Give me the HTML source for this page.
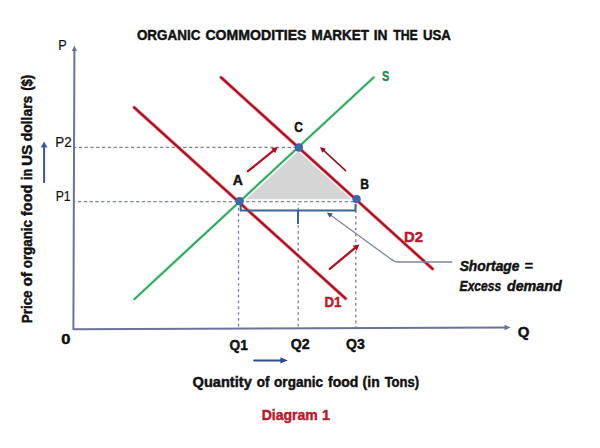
<!DOCTYPE html>
<html><head><meta charset="utf-8">
<style>
html,body{margin:0;padding:0;background:#fff;width:600px;height:448px;overflow:hidden}
svg{display:block}
text{font-family:"Liberation Sans",sans-serif}
</style></head>
<body>
<svg width="600" height="448" viewBox="0 0 600 448">
<g stroke="#7a82a0" stroke-width="1.25" stroke-dasharray="3.3 2.5" fill="none">
  <line x1="75" y1="147.4" x2="296" y2="147.4" stroke-dashoffset="2.05"/>
  <line x1="75" y1="201.6" x2="356" y2="201.6" stroke-dashoffset="2.85"/>
</g>
<g stroke="#727a96" stroke-width="1.3" stroke-dasharray="2.7 3.1" fill="none">
  <line x1="238.5" y1="204" x2="238.5" y2="328" stroke-dashoffset="2.05"/>
  <line x1="298.2" y1="204" x2="298.2" y2="328" stroke-dashoffset="2.05"/>
  <line x1="355.8" y1="203" x2="355.8" y2="328" stroke-dashoffset="4.35"/>
</g>
<polygon points="246,199.3 298.1,151.3 351.5,199.3" fill="#d5d5d5"/>
<polyline points="74.4,49 73.4,329.2 506,327.5" stroke="#6b7398" stroke-width="2" fill="none" stroke-linejoin="round"/>
<polygon points="74.40,45.60 77.00,51.10 71.80,51.10" fill="#6b7398"/>
<polygon points="510.50,327.50 504.50,330.20 504.50,324.80" fill="#6b7398"/>
<line x1="134.4" y1="299.1" x2="373.7" y2="77.4" stroke="#9af0c0" stroke-width="3.8" stroke-opacity="0.5" stroke-linecap="round"/>
<line x1="134.4" y1="299.1" x2="373.7" y2="77.4" stroke="#33a05c" stroke-width="1.9" stroke-linecap="round"/>
<g stroke-linecap="round">
<line x1="134.1" y1="107.4" x2="345.7" y2="298.6" stroke="#ff3a4a" stroke-width="3.6" stroke-opacity="0.55"/>
<line x1="221" y1="77.4" x2="432.6" y2="268.9" stroke="#ff3a4a" stroke-width="3.6" stroke-opacity="0.55"/>
<line x1="134.1" y1="107.4" x2="345.7" y2="298.6" stroke="#a50f1f" stroke-width="2.1"/>
<line x1="221" y1="77.4" x2="432.6" y2="268.9" stroke="#a50f1f" stroke-width="2.1"/>
</g>
<g stroke="#3a6692" stroke-width="2" fill="none">
  <polyline points="240.7,205 240.7,210.5 355.5,210.5 355.5,204"/>
  <line x1="298" y1="210.5" x2="298" y2="224"/>
</g>
<path d="M329.5,214.3 L390.5,258.8 Q394,262 398.5,262 L452.3,262" stroke="#7e879c" stroke-width="1.3" fill="none"/>
<polygon points="326.80,212.40 332.78,213.54 329.71,217.74" fill="#4a5866"/>
<line x1="248.00" y1="171.20" x2="274.01" y2="150.15" stroke="#b3101f" stroke-width="2.2" stroke-linecap="round"/>
<polygon points="277.90,147.00 275.25,153.26 271.22,148.29" fill="#b3101f"/>
<line x1="329.80" y1="268.90" x2="355.45" y2="247.59" stroke="#b3101f" stroke-width="2.3" stroke-linecap="round"/>
<polygon points="359.30,244.40 356.79,250.77 352.58,245.69" fill="#b3101f"/>
<line x1="345.60" y1="170.60" x2="323.31" y2="150.05" stroke="#8a1425" stroke-width="1.6" stroke-linecap="round"/>
<polygon points="320.00,147.00 325.87,148.74 322.21,152.71" fill="#8a1425"/>
<g fill="#3d67ac" stroke="#30589a" stroke-width="0.6">
  <circle cx="239.6" cy="201.2" r="3.9"/>
  <circle cx="298.9" cy="147.5" r="3.9"/>
  <circle cx="356.6" cy="199.1" r="3.9"/>
</g>
<line x1="44.10" y1="182.90" x2="44.10" y2="146.40" stroke="#3a55a0" stroke-width="2" stroke-linecap="butt"/>
<polygon points="44.10,141.40 47.40,147.40 40.80,147.40" fill="#3a55a0"/>
<line x1="254.20" y1="360.40" x2="281.40" y2="360.40" stroke="#2f4d8a" stroke-width="2" stroke-linecap="round"/>
<polygon points="287.90,360.40 280.40,363.50 280.40,357.30" fill="#2f4d8a"/>
<text x="136.91" y="40.3" font-size="14.1" font-weight="bold" font-style="normal" fill="#111" stroke="#111" stroke-width="0.45" textLength="63.52" lengthAdjust="spacingAndGlyphs">ORGANIC</text>
<text x="205.43" y="40.3" font-size="14.1" font-weight="bold" font-style="normal" fill="#111" stroke="#111" stroke-width="0.45" textLength="101.11" lengthAdjust="spacingAndGlyphs">COMMODITIES</text>
<text x="311.41" y="40.3" font-size="14.1" font-weight="bold" font-style="normal" fill="#111" stroke="#111" stroke-width="0.45" textLength="57.67" lengthAdjust="spacingAndGlyphs">MARKET</text>
<text x="373.76" y="40.3" font-size="14.1" font-weight="bold" font-style="normal" fill="#111" stroke="#111" stroke-width="0.45" textLength="13.79" lengthAdjust="spacingAndGlyphs">IN</text>
<text x="393.15" y="40.3" font-size="14.1" font-weight="bold" font-style="normal" fill="#111" stroke="#111" stroke-width="0.45" textLength="24.55" lengthAdjust="spacingAndGlyphs">THE</text>
<text x="422.92" y="40.3" font-size="14.1" font-weight="bold" font-style="normal" fill="#111" stroke="#111" stroke-width="0.45" textLength="27.95" lengthAdjust="spacingAndGlyphs">USA</text>
<text x="58.15" y="50.1" font-size="14.6" font-weight="normal" font-style="normal" fill="#111" stroke="#111" stroke-width="0.2" textLength="8.50" lengthAdjust="spacingAndGlyphs">P</text>
<text x="55.28" y="147.1" font-size="14.6" font-weight="normal" font-style="normal" fill="#111" stroke="#111" stroke-width="0.2" textLength="16.40" lengthAdjust="spacingAndGlyphs">P2</text>
<text x="55.63" y="201.1" font-size="14.6" font-weight="normal" font-style="normal" fill="#111" stroke="#111" stroke-width="0.2" textLength="15.00" lengthAdjust="spacingAndGlyphs">P1</text>
<text x="61.27" y="343.5" font-size="14.2" font-weight="bold" font-style="normal" fill="#111" stroke="#111" stroke-width="0.45" textLength="9.19" lengthAdjust="spacingAndGlyphs">0</text>
<text x="517.65" y="337" font-size="14.2" font-weight="bold" font-style="normal" fill="#111" stroke="#111" stroke-width="0.45" textLength="11.67" lengthAdjust="spacingAndGlyphs">Q</text>
<text x="229.50" y="350.1" font-size="14.2" font-weight="bold" font-style="normal" fill="#111" stroke="#111" stroke-width="0.45" textLength="18.28" lengthAdjust="spacingAndGlyphs">Q1</text>
<text x="290.64" y="348.8" font-size="14.2" font-weight="bold" font-style="normal" fill="#111" stroke="#111" stroke-width="0.45" textLength="18.94" lengthAdjust="spacingAndGlyphs">Q2</text>
<text x="346.06" y="349.4" font-size="14.2" font-weight="bold" font-style="normal" fill="#111" stroke="#111" stroke-width="0.45" textLength="18.74" lengthAdjust="spacingAndGlyphs">Q3</text>
<text x="232.85" y="185.1" font-size="14.2" font-weight="bold" font-style="normal" fill="#111" stroke="#111" stroke-width="0.45" textLength="10.11" lengthAdjust="spacingAndGlyphs">A</text>
<text x="294.37" y="132" font-size="14.2" font-weight="bold" font-style="normal" fill="#111" stroke="#111" stroke-width="0.45" textLength="8.56" lengthAdjust="spacingAndGlyphs">C</text>
<text x="360.16" y="189" font-size="14.2" font-weight="bold" font-style="normal" fill="#111" stroke="#111" stroke-width="0.45" textLength="8.72" lengthAdjust="spacingAndGlyphs">B</text>
<text x="192.61" y="386.6" font-size="14.2" font-weight="bold" font-style="normal" fill="#111" stroke="#111" stroke-width="0.45" textLength="59.14" lengthAdjust="spacingAndGlyphs">Quantity</text>
<text x="256.80" y="386.6" font-size="14.2" font-weight="bold" font-style="normal" fill="#111" stroke="#111" stroke-width="0.45" textLength="12.74" lengthAdjust="spacingAndGlyphs">of</text>
<text x="274.08" y="386.6" font-size="14.2" font-weight="bold" font-style="normal" fill="#111" stroke="#111" stroke-width="0.45" textLength="48.96" lengthAdjust="spacingAndGlyphs">organic</text>
<text x="328.08" y="386.6" font-size="14.2" font-weight="bold" font-style="normal" fill="#111" stroke="#111" stroke-width="0.45" textLength="30.22" lengthAdjust="spacingAndGlyphs">food</text>
<text x="362.62" y="386.6" font-size="14.2" font-weight="bold" font-style="normal" fill="#111" stroke="#111" stroke-width="0.45" textLength="17.06" lengthAdjust="spacingAndGlyphs">(in</text>
<text x="384.65" y="386.6" font-size="14.2" font-weight="bold" font-style="normal" fill="#111" stroke="#111" stroke-width="0.45" textLength="34.43" lengthAdjust="spacingAndGlyphs">Tons)</text>
<text x="381.89" y="81.4" font-size="14.2" font-weight="bold" font-style="normal" fill="#1f8a52" stroke="#1f8a52" stroke-width="0.45" textLength="7.20" lengthAdjust="spacingAndGlyphs">S</text>
<text x="324.57" y="307" font-size="14.2" font-weight="bold" font-style="normal" fill="#b81a2b" stroke="#b81a2b" stroke-width="0.45" textLength="16.88" lengthAdjust="spacingAndGlyphs">D1</text>
<text x="403.97" y="242" font-size="14.2" font-weight="bold" font-style="normal" fill="#b81a2b" stroke="#b81a2b" stroke-width="0.45" textLength="18.96" lengthAdjust="spacingAndGlyphs">D2</text>
<text x="261.65" y="420.1" font-size="14.2" font-weight="bold" font-style="normal" fill="#b81a2b" stroke="#b81a2b" stroke-width="0.45" textLength="56.12" lengthAdjust="spacingAndGlyphs">Diagram</text>
<text x="321.98" y="420.1" font-size="14.2" font-weight="bold" font-style="normal" fill="#b81a2b" stroke="#b81a2b" stroke-width="0.45" textLength="8.03" lengthAdjust="spacingAndGlyphs">1</text>
<text x="459.64" y="271.2" font-size="14.4" font-weight="bold" font-style="italic" fill="#111" stroke="#111" stroke-width="0.45" textLength="59.82" lengthAdjust="spacingAndGlyphs">Shortage</text>
<text x="524.61" y="271.2" font-size="14.4" font-weight="bold" font-style="italic" fill="#111" stroke="#111" stroke-width="0.45" textLength="8.26" lengthAdjust="spacingAndGlyphs">=</text>
<text x="459.60" y="290.7" font-size="14.4" font-weight="bold" font-style="italic" fill="#111" stroke="#111" stroke-width="0.45" textLength="41.59" lengthAdjust="spacingAndGlyphs">Excess</text>
<text x="506.94" y="290.7" font-size="14.4" font-weight="bold" font-style="italic" fill="#111" stroke="#111" stroke-width="0.45" textLength="54.83" lengthAdjust="spacingAndGlyphs">demand</text>
<text transform="translate(32.3,323.24) rotate(-90)" font-size="14" font-weight="bold" fill="#111" stroke="#111" stroke-width="0.45" textLength="32.80" lengthAdjust="spacingAndGlyphs">Price</text>
<text transform="translate(32.3,286.61) rotate(-90)" font-size="14" font-weight="bold" fill="#111" stroke="#111" stroke-width="0.45" textLength="14.52" lengthAdjust="spacingAndGlyphs">of</text>
<text transform="translate(32.3,268.22) rotate(-90)" font-size="14" font-weight="bold" fill="#111" stroke="#111" stroke-width="0.45" textLength="48.21" lengthAdjust="spacingAndGlyphs">organic</text>
<text transform="translate(32.3,215.96) rotate(-90)" font-size="14" font-weight="bold" fill="#111" stroke="#111" stroke-width="0.45" textLength="31.22" lengthAdjust="spacingAndGlyphs">food</text>
<text transform="translate(32.3,180.22) rotate(-90)" font-size="14" font-weight="bold" fill="#111" stroke="#111" stroke-width="0.45" textLength="11.51" lengthAdjust="spacingAndGlyphs">in</text>
<text transform="translate(32.3,165.95) rotate(-90)" font-size="14" font-weight="bold" fill="#111" stroke="#111" stroke-width="0.45" textLength="21.30" lengthAdjust="spacingAndGlyphs">US</text>
<text transform="translate(32.3,141.14) rotate(-90)" font-size="14" font-weight="bold" fill="#111" stroke="#111" stroke-width="0.45" textLength="45.36" lengthAdjust="spacingAndGlyphs">dollars</text>
<text transform="translate(32.3,90.86) rotate(-90)" font-size="14" font-weight="bold" fill="#111" stroke="#111" stroke-width="0.45" textLength="16.10" lengthAdjust="spacingAndGlyphs">($)</text>
</svg>
</body></html>
